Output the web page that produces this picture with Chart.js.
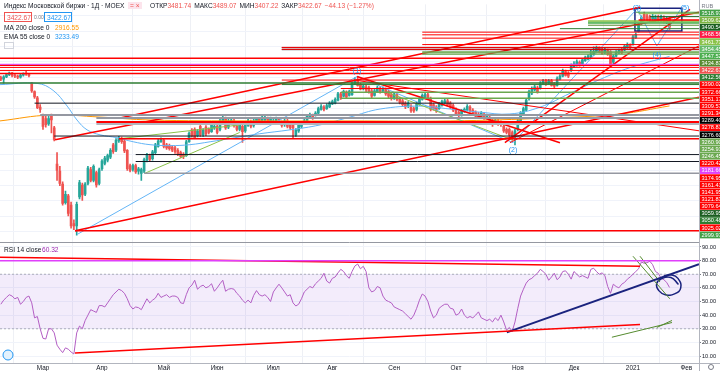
<!DOCTYPE html>
<html>
<head>
<meta charset="utf-8">
<script src="https://cdn.jsdelivr.net/npm/chart.js@4.4.1/dist/chart.umd.min.js"></script>
<style>
  html, body { margin: 0; padding: 0; background: #fff; }
  #wrap { width: 720px; height: 371px; position: relative; }
  canvas { display: block; }
</style>
</head>
<body>
<div id="wrap"><canvas id="chart" width="720" height="371"></canvas></div>
<script>
// daily candles, IMOEX, feb 2020 .. jan 2021
const opens = [3095,3085,3100,3115,3125,3110,3105,3098,3112,3120,3118,3060,3005,2965,2905,
2850,2830,2796,2850,2770,2535,2490,2405,2285,2330,2270,2150,2135,2322,2400,
2340,2410,2500,2430,2480,2410,2505,2540,2560,2580,2660,2625,2685,2700,2685,
2625,2525,2500,2525,2490,2475,2490,2560,2590,2570,2610,2650,2680,2690,2660,
2655,2645,2640,2625,2610,2600,2590,2680,2755,2760,2720,2780,2725,2775,2760,
2745,2770,2780,2760,2800,2830,2775,2800,2815,2780,2760,2780,2750,2785,2810,
2785,2805,2825,2805,2820,2830,2810,2800,2815,2825,2805,2790,2815,2795,2800,
2725,2750,2780,2795,2815,2835,2850,2850,2865,2890,2905,2895,2905,2925,2930,
2950,2990,2975,3000,2980,2985,3055,3085,3050,3025,3035,3030,3010,2980,3005,
3025,3010,3020,3005,2985,2965,2985,2960,2945,2930,2910,2910,2895,2890,2920,
2955,2965,2985,2960,2920,2905,2895,2915,2930,2945,2930,2915,2890,2870,2855,
2875,2885,2905,2885,2870,2860,2845,2860,2840,2835,2815,2800,2815,2805,2780,
2760,2760,2740,2695,2760,2815,2855,2885,2960,2995,3015,3030,3025,3055,3075,
3060,3075,3055,3045,3085,3105,3135,3125,3140,3165,3175,3195,3185,3205,3215,
3230,3245,3260,3285,3275,3255,3270,3262,3195,3235,3255,3275,3275,3290,3305,
3310,3355,3395,3445,3505,3495,3490,3475,3465,3490,3470,3485,3455,3481.74];

const highs = [3105,3108,3122,3132,3130,3118,3112,3118,3126,3140,3124,3065,3010,2975,2920,
2860,2845,2845,2860,2780,2610,2520,2420,2360,2340,2290,2175,2290,2430,2412,
2415,2520,2515,2530,2490,2510,2565,2585,2600,2635,2670,2700,2715,2710,2690,
2630,2535,2535,2535,2515,2510,2575,2605,2600,2625,2670,2695,2705,2700,2670,
2665,2655,2650,2635,2620,2610,2690,2745,2765,2770,2760,2790,2765,2785,2770,
2800,2795,2790,2825,2845,2840,2825,2830,2825,2790,2800,2790,2800,2825,2820,
2825,2835,2835,2850,2845,2840,2840,2830,2840,2835,2815,2825,2825,2805,2810,
2765,2800,2810,2825,2855,2865,2860,2875,2905,2920,2915,2925,2940,2950,2965,
3000,3000,3015,3010,3015,3070,3095,3100,3060,3050,3045,3040,3020,3020,3040,
3035,3035,3030,3015,2995,3000,2995,2970,2955,2940,2940,2920,2905,2935,2970,
2990,2995,2995,2970,2930,2915,2935,2950,2955,2955,2940,2925,2900,2880,2890,
2900,2920,2915,2895,2880,2870,2875,2870,2860,2845,2825,2830,2825,2815,2790,
2770,2770,2750,2760,2825,2875,2905,2960,3015,3035,3045,3040,3070,3085,3085,
3085,3085,3065,3100,3115,3150,3145,3135,3185,3200,3210,3205,3220,3235,3245,
3275,3295,3300,3295,3285,3285,3280,3270,3245,3270,3280,3285,3310,3320,3315,
3370,3385,3450,3495,3520,3505,3500,3505,3500,3500,3500,3495,3490,3489.07];

const lows = [3075,3060,3095,3108,3100,3095,3088,3092,3105,3110,3100,3000,2960,2895,2870,
2760,2775,2785,2738,2685,2430,2395,2270,2275,2200,2120,2110,2075,2310,2300,
2330,2400,2420,2420,2385,2400,2495,2530,2550,2570,2605,2615,2675,2670,2610,
2495,2485,2490,2475,2470,2430,2480,2550,2555,2560,2600,2645,2675,2640,2630,
2625,2615,2605,2590,2575,2570,2585,2675,2710,2700,2712,2715,2715,2720,2730,
2740,2760,2730,2750,2790,2760,2765,2795,2775,2750,2750,2675,2740,2780,2770,
2775,2800,2795,2800,2815,2800,2800,2790,2810,2790,2775,2780,2770,2760,2705,
2715,2740,2770,2790,2810,2830,2825,2845,2860,2885,2880,2890,2900,2920,2925,
2945,2955,2970,2960,2975,2980,3050,3040,3015,3015,3005,2995,2965,2975,3000,
2995,3000,2980,2965,2950,2955,2945,2925,2910,2895,2900,2870,2870,2880,2915,
2950,2960,2955,2880,2885,2870,2890,2910,2925,2910,2895,2875,2850,2840,2845,
2870,2880,2870,2850,2835,2835,2835,2825,2830,2795,2780,2790,2785,2780,2740,
2730,2715,2690,2660,2750,2810,2850,2880,2950,2985,3010,2995,3020,3050,3045,
3055,3040,3030,3040,3080,3100,3105,3095,3135,3160,3170,3170,3180,3200,3210,
3225,3240,3255,3255,3245,3250,3240,3170,3185,3230,3250,3250,3270,3285,3280,
3305,3350,3390,3440,3465,3465,3460,3465,3455,3455,3460,3450,3445,3407.22];

const closes = [3085,3100,3115,3125,3110,3105,3098,3112,3120,3118,3108,3010,2970,2900,2890,
2780,2790,2830,2822,2695,2495,2410,2280,2340,2215,2135,2135,2275,2415,2335,
2405,2510,2430,2520,2400,2500,2555,2575,2590,2625,2615,2690,2705,2680,2620,
2505,2495,2525,2485,2505,2500,2565,2595,2565,2615,2660,2685,2695,2650,2640,
2635,2625,2615,2600,2585,2585,2680,2735,2720,2705,2750,2725,2755,2730,2740,
2790,2780,2740,2815,2835,2770,2815,2820,2785,2760,2790,2745,2790,2815,2780,
2815,2825,2805,2840,2835,2805,2830,2815,2830,2800,2785,2815,2780,2770,2770,
2755,2790,2800,2815,2845,2855,2835,2865,2895,2910,2890,2915,2930,2940,2955,
2990,2965,3005,2970,3005,3060,3080,3045,3020,3040,3015,3005,2975,3010,3030,
3005,3025,2990,2975,2960,2990,2955,2935,2920,2905,2930,2880,2880,2925,2960,
2980,2985,2965,2890,2895,2880,2925,2940,2945,2920,2905,2885,2860,2850,2880,
2890,2910,2880,2860,2845,2845,2865,2835,2850,2805,2790,2820,2795,2790,2750,
2740,2725,2700,2750,2815,2865,2895,2950,3005,3025,3035,3005,3060,3075,3050,
3075,3045,3040,3090,3105,3140,3110,3105,3175,3185,3200,3175,3210,3225,3235,
3250,3265,3290,3260,3250,3275,3245,3180,3235,3260,3270,3255,3300,3310,3290,
3360,3375,3440,3485,3475,3475,3470,3490,3485,3465,3488,3460,3467,3422.67];

// RSI 14 per bar
const rsi = [48,51,53,55,54,52,53,48,50,53,54,49,38,39,30,
23,22.5,30,30,27,18,15,12.5,16,15,13,11.5,27,32,30,
36,40,44,43,42,47,47,46,49,52,55,57,59,58,56,
52,47,44.5,46,45.5,44,48,52,49,51,52.5,56,53,54,55,
53,54,54,53,49,48.5,55,60,62,65.6,59,61,62,60,61,
63,57.5,60,63,65.6,57.5,59,59.5,59,56,54,51,49,51,49,
54.5,58,55,54,55,53,50,57,60,62.7,60,57,54,55,49,
46.7,48,52,57,59,61,60,63,65,67,70.7,65,63.5,67,68,
71,73.6,72,69,67,72,76,77.5,74,75.8,72,60,57,58,61,
60,54,51,50,49,46,45,44,43,41,39,37,40,45,51,
55.5,54,50,43,38,40,45,46.7,48,48,45,44.5,40,41,44.5,
40,38,39,38,40,42.4,38,37,36,37,35,38,36,40,35,
29,31,28,35,45,54,59,63.5,66,67,69,70.7,73.6,72,70,
65.6,68,70.7,66,68,72,72.5,70,66.4,72,70,68,69,68,67,
73.6,74.4,72,70,71,69,61,56,62.7,61,60,62.7,64,66.4,68,
70,72,74,79,78,78.5,79.5,77,72,70.7,67,66,64,60.32];

// moving averages: [bar index, value]
const ma200 = [[-0.3,2815],[17.5,2853],[35.3,2840],[53.1,2821],[88.7,2815],[124.3,2815],[159.9,2815],[195.4,2834],[220.4,2860],[238,2912]];
const ema55 = [[-0.3,3050],[12.9,3058],[18.6,3013],[23.6,2911],[27.1,2821],[30.7,2757],[35.3,2725],[41.4,2706],[47.1,2680],[53.1,2661],[60.2,2655],[67.3,2661],[74.5,2680],[83.3,2706],[92.2,2732],[102.9,2757],[113.6,2789],[124.3,2840],[135,2892],[149.2,2911],[159.9,2892],[170.5,2872],[181.2,2860],[191.9,2904],[202.6,2994],[213.3,3084],[223.9,3160],[238,3233]];

// time axis
const monthAt = [15,36,58,77,97,118,140,162,184,204,225,244];
const monthNames = ['Мар','Апр','Май','Июн','Июл','Авг','Сен','Окт','Ноя','Дек','2021','Фев'];
const rsiTicks = [10,20,30,40,50,60,70,80,90];

// price axis labels (stacked like tradingview does)
const axisLabels = ['RUB','3518.97','3509.62','3490.54','3468.56','3461.73','3454.45','3447.52','3434.83','3422.67','3412.56','3390.02','3372.66','3351.17','3309.57','3291.34','3289.40','3278.81','3276.60','3260.90','3254.91','3246.45','3220.42','3181.66','3174.95','3161.41','3141.95','3121.83','3079.64','3059.95','3050.48','3025.02','2999.97'];
const axisColors = [null,'#43a047','#7cb342','#1b5e20','#ff1744','#8bc34a','#66bb6a','#4caf50','#558b2f','#ef5350','#2e7d32','#ff0000','#ff0000','#ff0000','#ff0000','#ff0000','#000000','#ff0000','#000000','#6aa84f','#6aa84f','#6aa84f','#ff0000','#e040fb','#ff0000','#ff0000','#ff0000','#ff0000','#ff0000','#1b5e20','#2e7d32','#ff0000','#43a047'];

// horizontal levels: [price, colour, first bar, width]
const levels = [
  [3518.97,'#43a047',226,1],[3509.62,'#7cb342',227,1],[3490.54,'#1b5e20',231,1],[3468.56,'#ff0000',227,1.5],
  [3461.73,'#8bc34a',209,1.5],[3454.45,'#66bb6a',209,1.5],[3447.52,'#4caf50',209,1],[3434.83,'#558b2f',209,1],
  [3412.56,'#2e7d32',199,1],[3390.02,'#ff0000',150,1],[3372.66,'#ff0000',150,1],[3351.17,'#ff0000',150,1],
  [3309.57,'#ff0000',150,1],[3291.34,'#ff0000',100,1],[3289.40,'#131722',100,1],[3278.81,'#ff0000',100,1],
  [3276.60,'#131722',100,1],[3260.90,'#6aa84f',150,1.5],[3254.91,'#6aa84f',150,1],[3246.45,'#6aa84f',150,1],
  [3220.42,'#ff0000',-0.3,1.5],[3181.66,'#e040fb',-0.3,1],[3174.95,'#ff0000',-0.3,1.5],[3161.41,'#ff0000',-0.3,1],
  [3141.95,'#ff0000',-0.3,1],[3121.83,'#ff0000',-0.3,1.5],[3079.64,'#ff0000',100,1],[3059.95,'#2e7d32',-0.3,1.5],
  [3050.48,'#2e7d32',100,1],[3025.02,'#ff0000',121,1],[2999.97,'#6aa84f',121,1.5],[2962,'#6aa84f',121,1.5],
  [2930,'#131722',12,1],[2853,'#9598a1',14,2],[2834,'#9598a1',34,2],[2808,'#ff0000',34,2],[2795,'#b2b5be',34,2],
  [2717,'#131722',19,1],[2700,'#ff0000',42,1.5],[2597,'#131722',48,1],[2552,'#131722',48,1],[2476,'#9598a1',51,1.5],
  [2104,'#ff0000',26.4,1.5]
];

// trend lines: [bar1, price1, bar2, price2, colour, width]
const trends = [
  [26.4,2104,248.5,2968,'#ff0000',1.5],
  [19.3,2693,248.5,3519,'#ff0000',1.5],
  [42.4,2834,227.5,3551,'#ff0000',1.5],
  [179.4,2674,245.3,3538,'#ff0000',1.5],
  [181.2,2674,248.5,3301,'#ff0000',1],
  [126.8,3103,199,2674,'#ff0000',1.5],
  [126.8,3077,248.5,2751,'#ff0000',1],
  [137.5,3000,182.3,2690,'#8bc34a',1],
  [51.3,2476,85,2740,'#8bc34a',1],
  [42.4,2700,85.1,2789,'#8bc34a',1]
];
const wavePath = [[27.1,2079],[126.8,3103],[182.3,2674],[226.4,3540],[233.5,3301],[242.4,3551]];
const waveLabels = [['(1)',126.8,3141],['(2)',182.3,2629],['(3)',226.4,3548],['(4)',233.5,3244],['(5)',243.5,3548]];
const boxCorners = [[225.7,3544],[242.4,3544],[242.4,3397],[225.7,3397],[225.7,3544]];

// rsi pane drawings: [bar1, rsi1, bar2, rsi2, colour, width]
const rsiLines = [
  [-0.3,79.8,248.5,79.8,'#e040fb',1.5],
  [-0.3,82.4,227.5,75.9,'#ff0000',1.5],
  [26.4,12.2,227.5,33.2,'#ff0000',1.5],
  [180.1,27.4,248.5,77.4,'#1a237e',2],
  [225,83.2,238.1,52,'#558b2f',1],
  [227.5,83.2,234.6,64.3,'#558b2f',1],
  [217.5,23.8,238.9,34.6,'#558b2f',1],
  [233.5,31,238.9,36.1,'#558b2f',1]
];
const rsiLoop = [[236,68.7],[238.6,69.5],[241,67],[242,60],[239.8,55.6],[236.5,55],[234.2,58],[233.4,63],[235,66.5],[238.5,67.6],[241.2,62.5]];

const UP = '#26a69a', DOWN = '#ef5350';
const X_MIN = -0.3, X_MAX = 248.5;
const P_MIN = 2027.6, P_MAX = 3570;
const R_MIN = 4.9, R_MAX = 93.3;
const FONT = '"Liberation Sans", Arial, sans-serif';

const bars = closes.map((c, i) => i);
const candleColors = closes.map((c, i) => c >= opens[i] ? UP : DOWN);

function seg(x1, y1, x2, y2, color, width, axis) {
  return {
    type: 'line', yAxisID: axis, order: 1,
    data: [{x: x1, y: y1}, {x: x2, y: y2}],
    borderColor: color, borderWidth: width, pointRadius: 0, fill: false
  };
}

const datasets = [];
// candles
datasets.push({
  type: 'bar', yAxisID: 'y', order: 20, grouped: false,
  data: bars.map(i => ({x: i, y: [lows[i], highs[i]]})),
  backgroundColor: candleColors, barThickness: 1
});
datasets.push({
  type: 'bar', yAxisID: 'y', order: 19, grouped: false, minBarLength: 1,
  data: bars.map(i => ({x: i, y: [opens[i], closes[i]]})),
  backgroundColor: candleColors, barThickness: 2
});
// moving averages
datasets.push({type: 'line', yAxisID: 'y', order: 10, data: ma200.map(p => ({x: p[0], y: p[1]})),
  borderColor: '#ff9800', borderWidth: 1, pointRadius: 0, tension: 0.4, fill: false});
datasets.push({type: 'line', yAxisID: 'y', order: 10, data: ema55.map(p => ({x: p[0], y: p[1]})),
  borderColor: '#64b5f6', borderWidth: 1, pointRadius: 0, tension: 0.4, fill: false});
// drawings on price pane
levels.forEach(l => datasets.push(seg(l[2], l[0], X_MAX, l[0], l[1], l[3], 'y')));
trends.forEach(t => datasets.push(seg(t[0], t[1], t[2], t[3], t[4], t[5], 'y')));
datasets.push({type: 'line', yAxisID: 'y', order: 2, data: wavePath.map(p => ({x: p[0], y: p[1]})),
  borderColor: '#64b5f6', borderWidth: 1, pointRadius: 0, fill: false});
datasets.push({type: 'line', yAxisID: 'y', order: 1, data: boxCorners.map(p => ({x: p[0], y: p[1]})),
  borderColor: '#1a237e', borderWidth: 1.5, pointRadius: 0, fill: false});
// rsi band 70/30
datasets.push({type: 'line', yAxisID: 'yRsi', order: 30, data: [{x: X_MIN, y: 70}, {x: X_MAX, y: 70}],
  borderColor: 'rgba(120,123,134,0.55)', borderWidth: 1, borderDash: [2, 2], pointRadius: 0, fill: false});
datasets.push({type: 'line', yAxisID: 'yRsi', order: 30, data: [{x: X_MIN, y: 30}, {x: X_MAX, y: 30}],
  borderColor: 'rgba(120,123,134,0.55)', borderWidth: 1, borderDash: [2, 2], pointRadius: 0,
  fill: '-1', backgroundColor: 'rgba(142,68,214,0.1)'});
datasets.push({type: 'line', yAxisID: 'yRsi', order: 5, data: bars.map(i => ({x: i, y: rsi[i]})),
  borderColor: '#b35fc4', borderWidth: 1, pointRadius: 0, fill: false});
rsiLines.forEach(t => datasets.push(seg(t[0], t[1], t[2], t[3], t[4], t[5], 'yRsi')));
datasets.push({type: 'line', yAxisID: 'yRsi', order: 1, data: rsiLoop.map(p => ({x: p[0], y: p[1]})),
  borderColor: '#1a237e', borderWidth: 1.5, pointRadius: 0, tension: 0.5, fill: false});

// texts, separators and axis labels drawn over the chart
const decor = {
  id: 'decor',
  beforeDatasetsDraw(chart) {
    const {ctx, chartArea} = chart;
    const y = chart.scales.y;
    ctx.save();
    ctx.strokeStyle = '#f0f3fa';
    ctx.lineWidth = 1;
    for (let v = 2100; v <= 3500; v += 100) {
      const py = Math.round(y.getPixelForValue(v)) + 0.5;
      ctx.beginPath(); ctx.moveTo(chartArea.left, py); ctx.lineTo(chartArea.right, py); ctx.stroke();
    }
    ctx.restore();
  },
  afterDraw(chart) {
    const {ctx, chartArea} = chart;
    const y = chart.scales.y, r = chart.scales.yRsi, x = chart.scales.x;
    ctx.save();
    // pane separator + axis borders
    ctx.strokeStyle = '#9598a1';
    ctx.lineWidth = 1;
    ctx.beginPath();
    ctx.moveTo(0, Math.round(y.bottom) + 0.5); ctx.lineTo(chartArea.right, Math.round(y.bottom) + 0.5);
    ctx.stroke();
    ctx.strokeStyle = '#b2b5be';
    ctx.beginPath();
    ctx.moveTo(Math.round(chartArea.right) + 0.5, 0); ctx.lineTo(Math.round(chartArea.right) + 0.5, 371);
    ctx.moveTo(0, Math.round(chartArea.bottom) + 0.5); ctx.lineTo(720, Math.round(chartArea.bottom) + 0.5);
    ctx.stroke();

    // price axis label stack
    ctx.font = '5.6px ' + FONT;
    ctx.textBaseline = 'middle';
    ctx.textAlign = 'left';
    const step = (y.bottom - y.top - 9) / (axisLabels.length - 1);
    axisLabels.forEach((t, k) => {
      const cy = y.top + 1.5 + k * step;
      if (axisColors[k]) {
        ctx.fillStyle = axisColors[k];
        ctx.fillRect(chartArea.right + 1, cy - 3.4, 720 - chartArea.right - 1, 6.8);
        ctx.fillStyle = '#ffffff';
      } else {
        ctx.fillStyle = '#787b86';
      }
      ctx.fillText(t, chartArea.right + 2.5, cy + 0.3);
    });

    // elliott wave labels
    ctx.font = '7px ' + FONT;
    ctx.textAlign = 'center';
    ctx.fillStyle = '#2196f3';
    waveLabels.forEach(w => ctx.fillText(w[0], x.getPixelForValue(w[1]), y.getPixelForValue(w[2])));

    // legend
    ctx.textAlign = 'left';
    ctx.textBaseline = 'alphabetic';
    ctx.font = '6.6px ' + FONT;
    ctx.fillStyle = '#131722';
    ctx.fillText('Индекс Московской биржи · 1Д · MOEX', 4, 8);
    ctx.fillStyle = '#fce4ec';
    ctx.fillRect(128, 2, 14, 7);
    ctx.fillStyle = '#ef5350';
    ctx.fillText('= ×', 130, 8);
    let px = 150;
    const ohlc = [['ОТКР', '3481.74'], ['МАКС', '3489.07'], ['МИН', '3407.22'], ['ЗАКР', '3422.67']];
    ohlc.forEach(o => {
      ctx.fillStyle = '#131722'; ctx.fillText(o[0], px, 8); px += ctx.measureText(o[0]).width;
      ctx.fillStyle = '#ef5350'; ctx.fillText(o[1], px, 8); px += ctx.measureText(o[1]).width + 3;
    });
    ctx.fillStyle = '#ef5350';
    ctx.fillText('−44.13 (−1.27%)', px, 8);

    ctx.lineWidth = 1;
    ctx.strokeStyle = '#ef5350';
    ctx.strokeRect(4.5, 12.5, 27, 9);
    ctx.fillStyle = '#ef5350';
    ctx.fillText('3422.67', 7, 19.5);
    ctx.fillStyle = '#787b86';
    ctx.font = '5px ' + FONT;
    ctx.fillText('0.00', 34, 19);
    ctx.font = '6.6px ' + FONT;
    ctx.strokeStyle = '#2196f3';
    ctx.strokeRect(44.5, 12.5, 27, 9);
    ctx.fillStyle = '#2196f3';
    ctx.fillText('3422.67', 47, 19.5);

    ctx.fillStyle = '#131722';
    ctx.fillText('MA 200 close 0', 4, 30);
    ctx.fillStyle = '#ff9800';
    ctx.fillText('2916.55', 55, 30);
    ctx.fillStyle = '#131722';
    ctx.fillText('EMA 55 close 0', 4, 39);
    ctx.fillStyle = '#2196f3';
    ctx.fillText('3233.49', 55, 39);
    ctx.strokeStyle = '#d1d4dc';
    ctx.strokeRect(4.5, 42.5, 9, 6);

    ctx.fillStyle = '#131722';
    ctx.fillText('RSI 14 close', 4, y.bottom + 10);
    ctx.fillStyle = '#9c27b0';
    ctx.fillText('60.32', 42, y.bottom + 10);

    // logo and gear
    ctx.strokeStyle = '#2196f3';
    ctx.fillStyle = '#e3f2fd';
    ctx.beginPath(); ctx.arc(8, r.bottom - 8, 5, 0, Math.PI * 2); ctx.fill(); ctx.stroke();
    ctx.strokeStyle = '#787b86';
    ctx.beginPath(); ctx.arc(711, 367, 2.5, 0, Math.PI * 2); ctx.stroke();
    ctx.restore();
  }
};

new Chart(document.getElementById('chart'), {
  type: 'bar',
  data: {datasets: datasets},
  options: {
    responsive: false,
    animation: false,
    devicePixelRatio: 1,
    events: [],
    layout: {padding: 0},
    plugins: {legend: {display: false}, tooltip: {enabled: false}},
    scales: {
      x: {
        type: 'linear', position: 'bottom', min: X_MIN, max: X_MAX, offset: false,
        afterBuildTicks: s => { s.ticks = monthAt.map(v => ({value: v})); },
        afterFit: s => { s.height = 8; },
        ticks: {
          autoSkip: false, maxRotation: 0, padding: 1, color: '#131722',
          font: {size: 6.4, family: FONT},
          callback: v => monthNames[monthAt.indexOf(v)] || ''
        },
        grid: {color: '#eef0f5', drawTicks: false},
        border: {display: false}
      },
      y: {
        type: 'linear', position: 'right', stack: 'pane', stackWeight: 241,
        min: P_MIN, max: P_MAX,
        afterFit: s => { s.width = 21; },
        ticks: {display: false},
        grid: {display: false},
        border: {display: false}
      },
      yRsi: {
        type: 'linear', axis: 'y', position: 'right', stack: 'pane', stackWeight: 122,
        min: R_MIN, max: R_MAX,
        afterBuildTicks: s => { s.ticks = rsiTicks.map(v => ({value: v})); },
        afterFit: s => { s.width = 21; },
        ticks: {
          autoSkip: false, padding: 1, color: '#131722',
          font: {size: 5.6, family: FONT},
          callback: v => v.toFixed(2)
        },
        grid: {color: '#f0f3fa', tickLength: 2, tickColor: '#787b86'},
        border: {display: false}
      }
    }
  },
  plugins: [decor]
});
</script>
</body>
</html>
